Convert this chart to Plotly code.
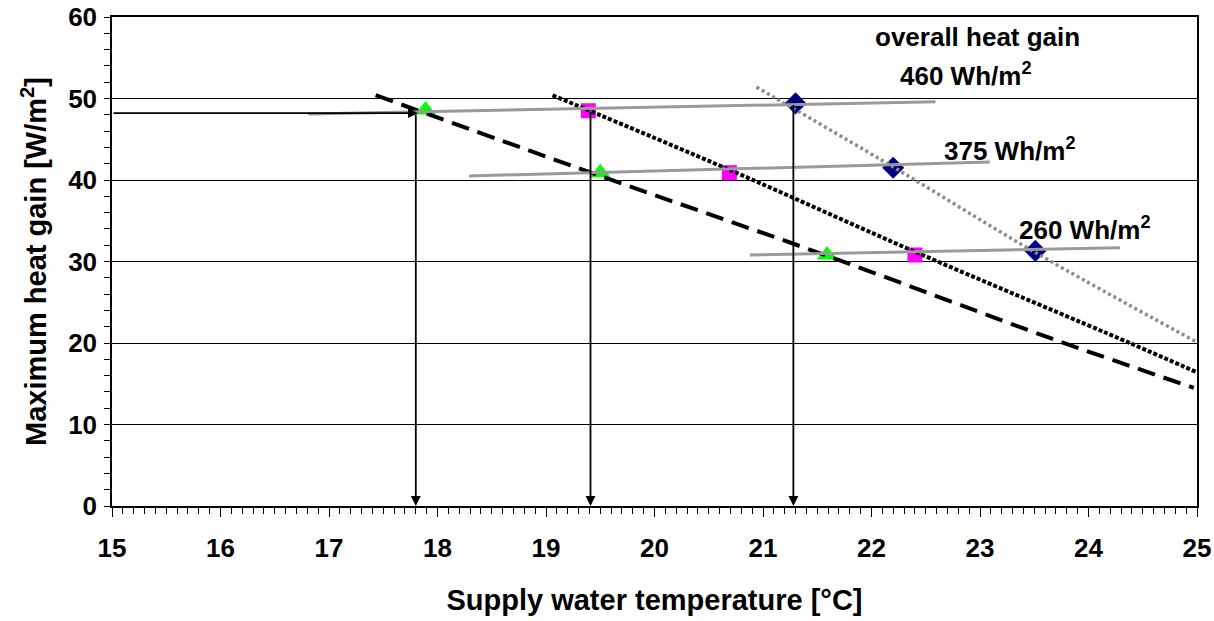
import plotly.graph_objects as go

# ---- data ----
tri_x = [17.89, 19.50, 21.59]
tri_y = [48.6, 40.9, 30.8]
sq_x = [19.39, 20.69, 22.40]
sq_y = [48.5, 40.9, 30.8]
dia_x = [21.30, 22.20, 23.51]
dia_y = [49.4, 41.5, 31.3]

dash_x = [17.43, 19.50, 21.59, 23.67, 24.97]
dash_y = [50.4, 40.5, 30.7, 20.5, 14.5]
dot_x = [19.06, 20.70, 22.40, 24.38, 25.0]
dot_y = [50.4, 41.2, 31.2, 20.0, 16.4]
gdot_x = [20.94, 22.20, 23.51, 25.0]
gdot_y = [51.4, 41.6, 31.1, 20.1]

g460_x = [16.81, 22.59]
g460_y = [48.1, 49.6]
g375_x = [18.29, 23.09]
g375_y = [40.5, 42.2]
g260_x = [20.88, 24.29]
g260_y = [30.8, 31.7]

# arrows: (tail_x, tail_y, head_x, head_y)
arrow_h = (15.0, 48.2, 17.82, 48.2)
arrow_v_x = [17.80, 19.41, 21.28]
arrow_v_top = [48.2, 48.5, 49.4]

labels_text = ["overall heat gain", "460 Wh/m<sup>2</sup>", "375 Wh/m<sup>2</sup>", "260 Wh/m<sup>2</sup>"]
labels_x = [22.98, 22.87, 23.28, 23.97]
labels_y = [57.5, 52.9, 43.7, 34.1]

x_ticks = list(range(15, 26))
y_ticks = list(range(0, 61, 10))

FONT = "Liberation Sans, Arial, sans-serif"

fig = go.Figure()

fig.add_trace(go.Scatter(x=tri_x, y=tri_y, mode="markers",
                         marker=dict(symbol="triangle-up", color="#00FF00", size=18, line=dict(width=0))))
fig.add_trace(go.Scatter(x=sq_x, y=sq_y, mode="markers",
                         marker=dict(symbol="square", color="#FF00FF", size=15, line=dict(width=0))))
fig.add_trace(go.Scatter(x=dia_x, y=dia_y, mode="markers",
                         marker=dict(symbol="diamond", color="#000080", size=17, line=dict(width=0))))

fig.add_trace(go.Scatter(x=dash_x, y=dash_y, mode="lines", line=dict(color="black", width=4, dash="18px,9px", shape="spline")))
fig.add_trace(go.Scatter(x=dot_x, y=dot_y, mode="lines", line=dict(color="black", width=4, dash="4px,2px", shape="spline")))
fig.add_trace(go.Scatter(x=gdot_x, y=gdot_y, mode="lines", line=dict(color="#8c8c8c", width=3.5, dash="3px,3px", shape="spline")))

for gx, gy in [(g460_x, g460_y), (g375_x, g375_y), (g260_x, g260_y)]:
    fig.add_trace(go.Scatter(x=gx, y=gy, mode="lines", line=dict(color="#9a9a9a", width=3)))

ann = []
tx, ty, hx, hy = arrow_h
ann.append(dict(x=hx, y=hy, ax=tx, ay=ty, xref="x", yref="y", axref="x", ayref="y",
                showarrow=True, arrowhead=2, arrowsize=1.1, arrowwidth=1.8, arrowcolor="black", text=""))
for vx, vt in zip(arrow_v_x, arrow_v_top):
    ann.append(dict(x=vx, y=0, ax=vx, ay=vt, xref="x", yref="y", axref="x", ayref="y",
                    showarrow=True, arrowhead=2, arrowsize=1.1, arrowwidth=1.8, arrowcolor="black", text=""))
for t, lx, ly in zip(labels_text, labels_x, labels_y):
    ann.append(dict(x=lx, y=ly, xref="x", yref="y", text=t, showarrow=False,
                    font=dict(family=FONT, size=26, color="black", weight="bold")))

fig.update_layout(
    width=1214, height=621,
    margin=dict(l=112, r=17, t=17, b=115),
    paper_bgcolor="white", plot_bgcolor="white",
    showlegend=False,
    annotations=ann,
    font=dict(family=FONT, color="black"),
)

fig.update_xaxes(
    range=[15, 25], tickvals=x_ticks, ticktext=[str(v) for v in x_ticks],
    showgrid=False, zeroline=False, automargin=False,
    showline=True, linecolor="black", linewidth=1.5, mirror=True,
    ticks="outside", ticklen=9, tickwidth=1.2, tickcolor="black",
    minor=dict(dtick=0.1, tick0=15, ticks="outside", ticklen=6, tickwidth=1, tickcolor="black", showgrid=False),
    tickfont=dict(family=FONT, size=26, color="black", weight="bold"),
    ticklabelstandoff=9,
    title=dict(text="Supply water temperature [°C]", font=dict(family=FONT, size=29, color="black", weight="bold"), standoff=28),
)
fig.update_yaxes(
    range=[0, 60], tickvals=y_ticks, ticktext=[str(v) for v in y_ticks],
    showgrid=True, gridcolor="black", gridwidth=1, zeroline=False, automargin=False,
    showline=True, linecolor="black", linewidth=1.5, mirror=True,
    ticks="outside", ticklen=6, tickwidth=1.2, tickcolor="black",
    minor=dict(dtick=2, tick0=0, ticks="outside", ticklen=6, tickwidth=1, tickcolor="black", showgrid=False),
    tickfont=dict(family=FONT, size=26, color="black", weight="bold"),
    ticklabelstandoff=2,
    title=dict(text="Maximum heat gain [W/m<sup>2</sup>]", font=dict(family=FONT, size=29, color="black", weight="bold"), standoff=13),
)

fig.write_html("out.html", config={"displayModeBar": False},
               post_script="document.body.style.margin='0';document.body.style.overflow='hidden';")
